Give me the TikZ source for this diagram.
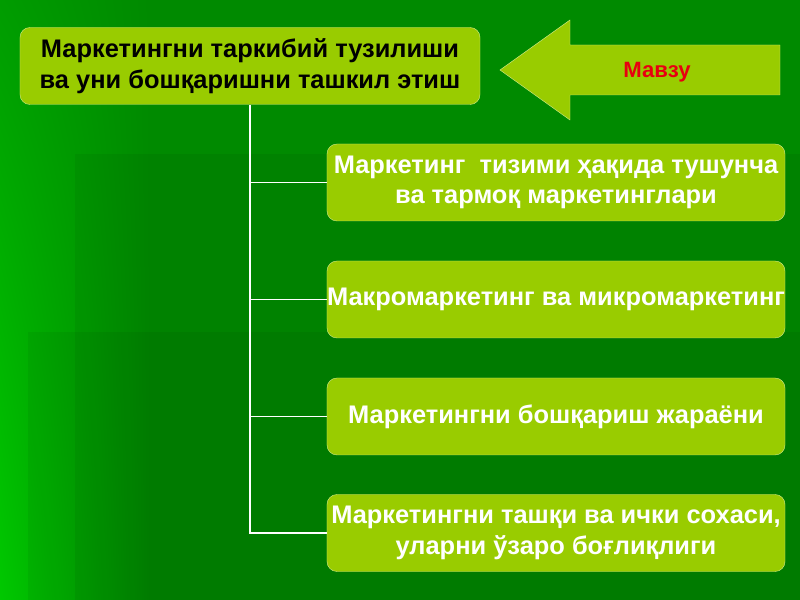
\documentclass[tikz,border=0pt]{standalone}
\usepackage{fontspec}
\setmainfont{Liberation Sans}
\usepackage{tikz}
\usetikzlibrary{positioning,shadings}
\definecolor{slide}{HTML}{008A00}
\definecolor{slideleft}{HTML}{00C800}
\definecolor{slidetop}{HTML}{009C00}
\definecolor{leaf}{HTML}{99CC00}
\definecolor{leafline}{HTML}{CCE680}
\definecolor{mavzured}{HTML}{E80010}
\tikzset{
  box/.style = {rectangle, rounded corners=0.3cm, draw=leafline, thin,
    fill=leaf, align=center, inner sep=0pt, text centered,
    font=\fontsize{21.7}{26}\selectfont\bfseries},
  topic/.style = {box, text=black, minimum width=13.8cm, minimum height=2.31cm},% asosiy mavzu
  part/.style = {box, text=white, minimum width=13.74cm, minimum height=2.31cm},% bo'limlar
  link/.style = {draw=white, line width=1.6pt},
  dimmer/.style = {fill=black, opacity=0.05}
}
\begin{document}
\begin{tikzpicture}[x=0.03cm, y=-0.03cm]
  % fon
  \fill[slide] (0,0) rectangle (800,600);
  \shade[upper left=slidetop, lower left=slideleft, upper right=slide,
    lower right=slide] (0,0) rectangle (150,600);
  \fill[dimmer] (75,154) rectangle (800,600);
  \fill[dimmer] (28,332) rectangle (800,600);
  \useasboundingbox (0,0) rectangle (800,600);

  \node [topic] (top) at (250,66) {Маркетингни таркибий тузилиши\\ ва уни бошқаришни ташкил этиш};

  % mavzu strelkasi
  \filldraw [fill=leaf, draw=leafline, thin]
    (500,70) -- (570,20) -- (570,45) -- (780,45) -- (780,95) -- (570,95) -- (570,120) -- cycle;
  \node [text=mavzured, font=\fontsize{18.9}{22}\selectfont\bfseries] (mavzu) at (657,72) {Мавзу};

  \node [part] (b1) at (556,182.5) {Маркетинг\ \ тизими ҳақида тушунча\\ ва тармоқ маркетинглари};
  \node [part] (b2) at (556,299.5) {Макромаркетинг ва микромаркетинг};
  \node [part] (b3) at (556,416.5) {Маркетингни бошқариш жараёни};
  \node [part] (b4) at (556,533) {Маркетингни ташқи ва ички сохаси,\\ уларни ўзаро боғлиқлиги};

  \draw [link] (top.south) -- (top.south |- b4.west) -- (b4.west);
  \foreach \b in {b1,b2,b3}
    \draw [link] (top.south |- \b.west) -- (\b.west);
\end{tikzpicture}
\end{document}
